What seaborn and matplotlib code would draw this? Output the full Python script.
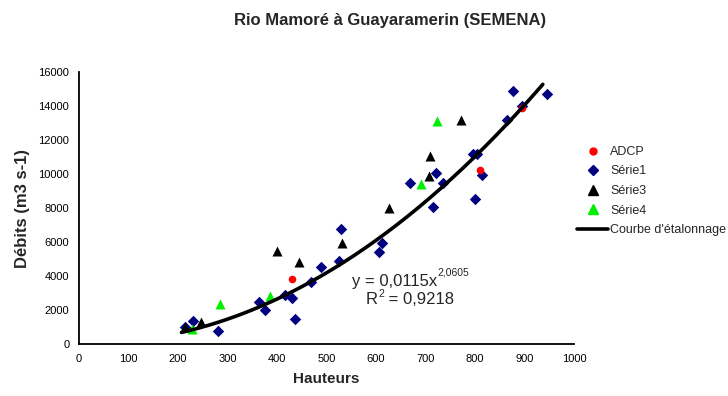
import numpy as np
import pandas as pd
import matplotlib
matplotlib.use("Agg")
import matplotlib.pyplot as plt
import seaborn as sns
from matplotlib.lines import Line2D

sns.set_style("white")
plt.rcParams['font.family'] = ['Liberation Sans', 'DejaVu Sans']

# ---- data ----
adcp_h = [431, 810, 895]
adcp_q = [3840, 10230, 13900]

serie1_h = [215, 230, 281, 363, 376, 416, 430, 437, 468, 489, 526, 530,
            607, 612, 669, 716, 721, 736, 796, 805, 814, 801, 864, 877, 894, 945]
serie1_q = [1020, 1350, 780, 2450, 2000, 2870, 2720, 1450, 3670, 4550, 4870, 6750,
            5430, 5920, 9450, 8080, 10040, 9450, 11160, 11160, 9920, 8510, 13180, 14880, 14020, 14700]

serie3_h = [215, 247, 400, 445, 532, 627, 707, 710, 771]
serie3_q = [1000, 1290, 5470, 4840, 5940, 8020, 9900, 11080, 13160]

serie4_h = [228, 285, 386, 691, 724]
serie4_q = [900, 2350, 2840, 9410, 13140]

# rating curve parameters (from the equation on the chart)
coef_a = 0.0115
coef_b = 2.0605
curve_range = (207, 937)

title = "Rio Mamoré à Guayaramerin (SEMENA)"
xlabel = "Hauteurs"
ylabel = "Débits (m3 s-1)"
xticks = list(range(0, 1001, 100))
yticks = list(range(0, 16001, 2000))

# ---- build tables ----
df = pd.concat([
    pd.DataFrame({"h": serie1_h, "q": serie1_q, "serie": "Série1"}),
    pd.DataFrame({"h": serie3_h, "q": serie3_q, "serie": "Série3"}),
    pd.DataFrame({"h": serie4_h, "q": serie4_q, "serie": "Série4"}),
    pd.DataFrame({"h": adcp_h, "q": adcp_q, "serie": "ADCP"}),
], ignore_index=True)

hc = np.linspace(curve_range[0], curve_range[1], 200)
curve = pd.DataFrame({"h": hc, "q": coef_a * hc ** coef_b})

colors = {"ADCP": "#ff0000", "Série1": "#000080", "Série3": "#000000", "Série4": "#00ee00"}
markers = {"ADCP": "o", "Série1": "D", "Série3": "^", "Série4": "^"}
sizes = {"ADCP": 30, "Série1": 34, "Série3": 52, "Série4": 52}

fig = plt.figure(figsize=(7.28, 3.96), dpi=100)
ax = fig.add_axes([79 / 728, 1 - 344 / 396, 495 / 728, 272 / 396])

for name in ["Série1", "Série3", "Série4", "ADCP"]:
    sub = df[df["serie"] == name]
    sns.scatterplot(data=sub, x="h", y="q", ax=ax, color=colors[name],
                    marker=markers[name], s=sizes[name], linewidth=0,
                    legend=False, zorder=3)

sns.lineplot(data=curve, x="h", y="q", ax=ax, color="black", linewidth=2.6,
             legend=False, zorder=4)

ax.set_xlim(0, 1000)
ax.set_ylim(0, 16000)
ax.set_xticks(xticks)
ax.set_yticks(yticks)
ax.tick_params(direction="inout", length=7, width=1, labelsize=8, colors="black")
for s in ["top", "right"]:
    ax.spines[s].set_visible(False)
for s in ["left", "bottom"]:
    ax.spines[s].set_color("black")
    ax.spines[s].set_linewidth(1.3)

ax.set_xlabel(xlabel, fontsize=11, fontweight="bold", labelpad=6)
ax.set_ylabel(ylabel, fontsize=12, fontweight="bold", labelpad=6)
fig.text(390 / 728, 1 - 21 / 396, title, ha="center", va="center",
         fontsize=12, fontweight="bold")

t1 = ax.text(551, 3650, "y = 0,0115x", fontsize=12, ha="left", va="center")
ax.annotate("2,0605", xy=(1, 0.78), xycoords=t1, fontsize=7.5,
            ha="left", va="bottom")
t2 = ax.text(580, 2590, "R", fontsize=12, ha="left", va="center")
t3 = ax.annotate("2", xy=(1, 0.55), xycoords=t2, fontsize=7.5, ha="left", va="bottom")
ax.annotate(" = 0,9218", xy=(1, 0), xycoords=t2, xytext=(4, 0),
            textcoords="offset points", fontsize=12, ha="left", va="bottom")

handles = [
    Line2D([], [], linestyle="none", marker="o", color=colors["ADCP"], markersize=5),
    Line2D([], [], linestyle="none", marker="D", color=colors["Série1"], markersize=5.5),
    Line2D([], [], linestyle="none", marker="^", color=colors["Série3"], markersize=7.5),
    Line2D([], [], linestyle="none", marker="^", color=colors["Série4"], markersize=7.5),
    Line2D([], [], color="black", linewidth=2.6),
]
labels = ["ADCP", "Série1", "Série3", "Série4", "Courbe d'étalonnage"]
fig.legend(handles, labels, loc="upper left", bbox_to_anchor=(572 / 728, 1 - 141 / 396),
           frameon=False, fontsize=9, handlelength=2.5, handletextpad=0.15,
           labelspacing=0.6, borderaxespad=0)

fig.savefig("out.png", dpi=100)
